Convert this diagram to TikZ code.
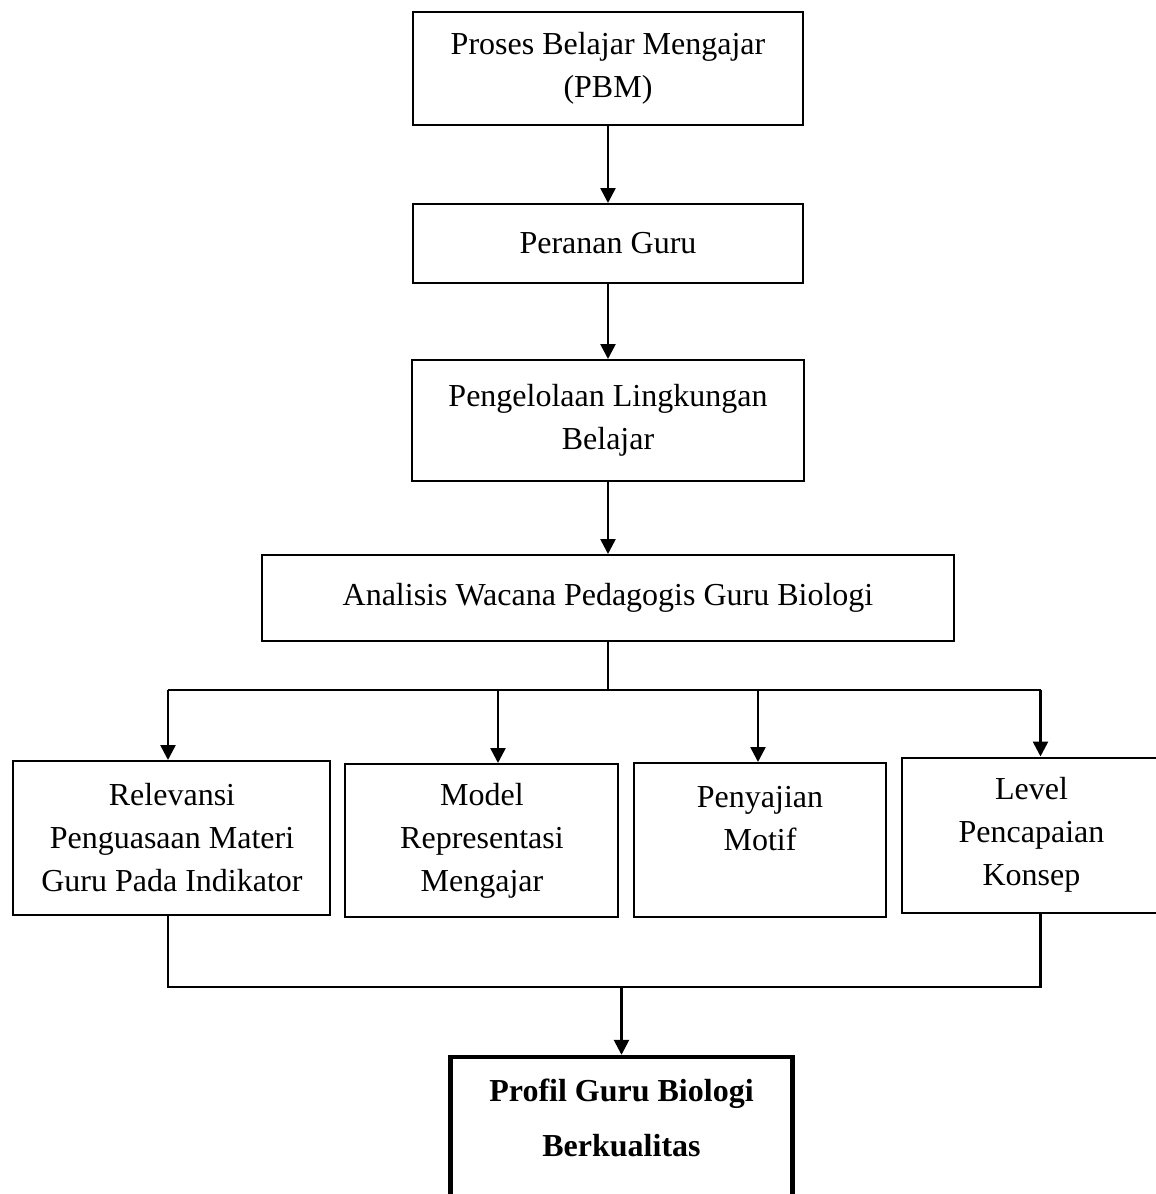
\documentclass[tikz,border=0pt]{standalone}
\usepackage{fontspec}
\setmainfont{Liberation Serif}
\usepackage{tikz}
\usetikzlibrary{arrows.meta}

\begin{document}
\begin{tikzpicture}[node distance=88pt,
  box/.style={draw, line width=1pt, align=center, inner sep=2pt, font=\fontsize{16}{21.5}\selectfont},
  link/.style={line width=1.3pt},
  arr/.style={line width=1.3pt, -{Triangle[width=7.5pt,length=7.5pt]}}]
\clip (-304pt,34.25pt) rectangle (274pt,-562.75pt);
\node (pbm) [box, minimum width=195pt, minimum height=56.5pt] {Proses Belajar Mengajar\\(PBM)};
\node (peran) [box, below of=pbm, node distance=87.5pt, minimum width=195pt, minimum height=39.5pt] {Peranan Guru};
\node (ling) [box, below of=peran, node distance=88.5pt, minimum width=195.5pt, minimum height=60.5pt] {Pengelolaan Lingkungan\\Belajar};
\node (ana) [box, below of=ling, node distance=88.75pt, minimum width=345.5pt, minimum height=43pt] {Analisis Wacana Pedagogis Guru Biologi};

\node (rel) [box, below of=ana, node distance=120pt, xshift=-218pt, minimum width=158.5pt, minimum height=77pt] {Relevansi\\Penguasaan Materi\\Guru Pada Indikator};
\node (mod) [box, below of=ana, node distance=121.25pt, xshift=-63pt, minimum width=136.5pt, minimum height=76.5pt] {Model\\Representasi\\Mengajar};
\node (pen) [box, below of=ana, node distance=121pt, xshift=76pt, minimum width=125.5pt, minimum height=77pt] {Penyajian\\Motif\\\mbox{}};
\node (lev) [box, below of=ana, node distance=118.5pt, xshift=211.75pt, minimum width=130pt, minimum height=77.5pt] {Level\\Pencapaian\\Konsep};

\node (prof) [box, line width=2.2pt, below of=ana, node distance=273.5pt, xshift=6.75pt, minimum width=171pt, minimum height=88pt, font=\bfseries\fontsize{16}{27.5}\selectfont] {Profil Guru Biologi\\Berkualitas\\\mbox{}};

\coordinate [below of=ana, node distance=46pt] (top);
\coordinate [above of=prof, node distance=79pt] (bot);

\draw[arr] (pbm) -- (peran);
\draw[arr] (peran) -- (ling);
\draw[arr] (ling) -- (ana);
\draw[link] (ana) -- (top);
\draw[link] ([xshift=-2pt]rel.north |- top) -- ([xshift=4.5pt]lev.north |- top);
\draw[arr] ([xshift=-2pt]rel.north |- top) -- ([xshift=-2pt]rel.north);
\draw[arr] ([xshift=8pt]mod.north |- top) -- ([xshift=8pt]mod.north);
\draw[arr] ([xshift=-1pt]pen.north |- top) -- ([xshift=-1pt]pen.north);
\draw[arr] ([xshift=4.5pt]lev.north |- top) -- ([xshift=4.5pt]lev.north);
\draw[link] ([xshift=-2pt]rel.south) -- ([xshift=-2pt]rel.south |- bot) -- ([xshift=4.5pt]lev.south |- bot) -- ([xshift=4.5pt]lev.south);
\draw[arr] (bot) -- (prof);
\end{tikzpicture}
\end{document}
